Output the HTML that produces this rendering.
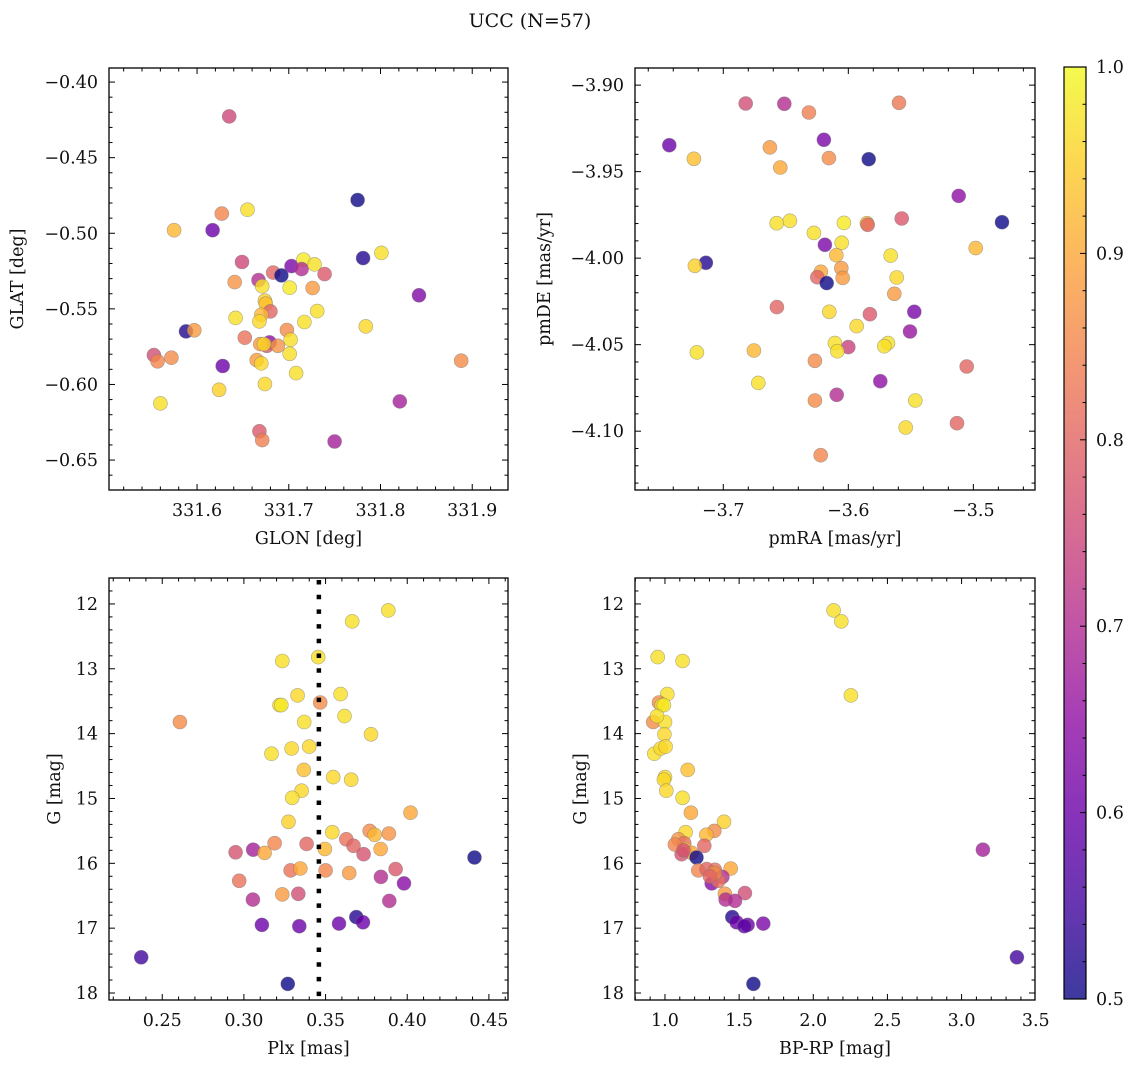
<!DOCTYPE html>
<html><head><meta charset="utf-8"><style>
html,body{margin:0;padding:0;background:#fff;}
svg{display:block;font-family:"DejaVu Serif","Liberation Serif",serif;}
</style></head><body>
<svg id="fig" width="1136" height="1067" viewBox="0 0 1136 1067" xmlns="http://www.w3.org/2000/svg">
<rect width="1136" height="1067" fill="#fff"/>
<text x="530" y="27" font-size="19" text-anchor="middle" fill="#111">UCC (N=57)</text>
<g id="root"></g>
</svg>
<script>
// Panel 1: GLON / GLAT
const glon=[331.635,331.775,331.627,331.655,331.575,331.617,331.801,331.781,331.649,331.703,331.716,331.714,331.728,331.739,331.683,331.692,331.667,331.671,331.641,331.701,331.726,331.842,331.674,331.675,331.680,331.731,331.642,331.670,331.668,331.717,331.784,331.588,331.597,331.698,331.652,331.702,331.679,331.676,331.669,331.673,331.688,331.701,331.553,331.557,331.572,331.888,331.665,331.670,331.628,331.708,331.674,331.624,331.560,331.821,331.668,331.671,331.750];
const glat=[-0.4227,-0.478,-0.487,-0.4844,-0.498,-0.498,-0.513,-0.5164,-0.519,-0.5217,-0.5175,-0.5237,-0.5206,-0.527,-0.526,-0.5279,-0.531,-0.535,-0.5323,-0.536,-0.5362,-0.541,-0.5446,-0.5466,-0.5517,-0.5515,-0.556,-0.5539,-0.5583,-0.5587,-0.5616,-0.5649,-0.5642,-0.564,-0.5691,-0.5704,-0.5722,-0.5744,-0.5733,-0.5733,-0.5744,-0.5797,-0.5806,-0.5847,-0.5823,-0.5843,-0.5839,-0.5861,-0.5878,-0.5925,-0.5997,-0.6035,-0.6125,-0.6112,-0.631,-0.6368,-0.6377];
const prob1=[0.75,0.5,0.85,0.97,0.92,0.6,0.97,0.52,0.75,0.62,0.98,0.7,0.97,0.78,0.8,0.5,0.7,0.97,0.87,0.98,0.88,0.63,0.95,0.93,0.8,0.97,0.97,0.92,0.96,0.97,0.96,0.52,0.88,0.86,0.82,0.97,0.65,0.78,0.88,0.96,0.87,0.97,0.76,0.85,0.86,0.86,0.88,0.96,0.6,0.97,0.96,0.95,0.97,0.68,0.78,0.84,0.68];
// Panel 2: pmRA / pmDE
const pmra=[-3.6821,-3.6512,-3.6315,-3.5595,-3.7432,-3.6627,-3.6195,-3.7235,-3.6155,-3.5837,-3.6544,-3.5117,-3.6573,-3.6467,-3.6035,-3.5851,-3.5573,-3.4771,-3.6275,-3.6187,-3.6053,-3.4981,-3.6096,-3.5661,-3.7139,-3.7227,-3.6056,-3.6219,-3.6248,-3.6045,-3.6173,-3.5613,-3.5632,-3.6571,-3.6152,-3.5827,-3.5472,-3.5933,-3.5507,-3.6107,-3.6,-3.6088,-3.5683,-3.5712,-3.7211,-3.6755,-3.6267,-3.5053,-3.672,-3.5744,-3.6093,-3.6267,-3.5464,-3.5131,-3.5541,-3.6221,-3.5845];
const pmde=[-3.9106,-3.9108,-3.9158,-3.9102,-3.9347,-3.936,-3.9316,-3.9426,-3.9422,-3.9428,-3.9476,-3.964,-3.9798,-3.9784,-3.9796,-3.9798,-3.9771,-3.9792,-3.9854,-3.9923,-3.9911,-3.9942,-3.9983,-3.9985,-4.0027,-4.0044,-4.0058,-4.0079,-4.011,-4.0114,-4.0144,-4.0112,-4.0206,-4.0283,-4.031,-4.0324,-4.031,-4.0393,-4.0424,-4.0491,-4.0514,-4.0538,-4.0491,-4.0509,-4.0545,-4.0534,-4.0593,-4.0626,-4.0721,-4.0711,-4.079,-4.0823,-4.0823,-4.0954,-4.0979,-4.1139,-3.9807];
const prob2=[0.76,0.7,0.84,0.83,0.6,0.88,0.62,0.93,0.86,0.5,0.9,0.65,0.97,0.97,0.98,0.93,0.78,0.5,0.97,0.62,0.97,0.92,0.92,0.97,0.52,0.95,0.88,0.9,0.8,0.88,0.5,0.96,0.88,0.8,0.96,0.78,0.62,0.96,0.66,0.97,0.74,0.97,0.97,0.97,0.97,0.92,0.86,0.8,0.97,0.65,0.7,0.86,0.97,0.8,0.96,0.85,0.8];
// Panel 3: Plx / G
const plx=[0.3884,0.3663,0.3235,0.3455,0.3329,0.3592,0.3467,0.3218,0.3229,0.2608,0.3369,0.3616,0.3778,0.3169,0.3292,0.34,0.3367,0.3547,0.3657,0.3353,0.3296,0.402,0.3273,0.3541,0.377,0.38,0.3888,0.3627,0.3188,0.3384,0.3671,0.3496,0.3837,0.2949,0.3057,0.3127,0.3733,0.4412,0.3286,0.3345,0.35,0.3645,0.3929,0.3839,0.398,0.2971,0.3235,0.3333,0.3055,0.389,0.3688,0.3729,0.311,0.3582,0.3339,0.2371,0.3269];
const gmag3=[12.10,12.27,12.88,12.82,13.41,13.39,13.52,13.56,13.56,13.82,13.82,13.73,14.01,14.31,14.23,14.20,14.56,14.67,14.71,14.88,14.99,15.22,15.36,15.52,15.50,15.56,15.54,15.63,15.69,15.70,15.73,15.78,15.78,15.83,15.79,15.84,15.86,15.91,16.11,16.08,16.11,16.15,16.09,16.21,16.31,16.27,16.48,16.47,16.56,16.58,16.83,16.91,16.95,16.93,16.97,17.45,17.86];
const prob3=[0.97,0.97,0.97,0.97,0.96,0.97,0.86,0.97,0.98,0.86,0.97,0.97,0.96,0.97,0.96,0.96,0.93,0.96,0.96,0.96,0.97,0.9,0.95,0.96,0.86,0.92,0.87,0.82,0.85,0.8,0.8,0.92,0.9,0.77,0.68,0.9,0.77,0.5,0.82,0.9,0.85,0.88,0.78,0.7,0.64,0.82,0.88,0.76,0.7,0.7,0.52,0.6,0.6,0.6,0.6,0.55,0.5];
const plxLine=0.3459;
// Panel 4: BP-RP / G
const bprp=[2.137,2.189,0.951,1.119,2.254,1.016,0.960,0.978,0.993,0.921,1.0,0.946,0.996,0.928,0.971,1.004,1.153,1.0,0.993,1.009,1.119,1.175,1.398,1.139,1.333,1.279,1.09,1.130,1.265,1.135,1.18,1.112,1.213,3.144,1.225,1.337,1.443,1.281,1.326,1.387,1.315,1.36,1.404,1.539,1.409,1.472,1.454,1.483,1.663,1.557,1.535,3.373,1.596,1.337,1.067,1.124,1.303];
const gmag4=[12.10,12.27,12.82,12.88,13.41,13.39,13.52,13.56,13.56,13.82,13.82,13.73,14.01,14.31,14.23,14.20,14.56,14.67,14.71,14.88,14.99,15.22,15.36,15.52,15.50,15.56,15.63,15.69,15.73,15.78,15.84,15.86,15.91,15.79,16.11,16.10,16.08,16.09,16.15,16.21,16.31,16.27,16.47,16.46,16.56,16.58,16.83,16.91,16.93,16.95,16.97,17.45,17.86,16.15,15.71,15.80,16.20];
const prob4=[0.97,0.97,0.97,0.97,0.97,0.97,0.86,0.97,0.98,0.86,0.97,0.97,0.96,0.97,0.96,0.96,0.93,0.96,0.96,0.96,0.97,0.9,0.95,0.96,0.86,0.92,0.87,0.82,0.8,0.92,0.9,0.77,0.5,0.68,0.85,0.82,0.9,0.8,0.88,0.7,0.64,0.82,0.88,0.76,0.7,0.7,0.52,0.6,0.62,0.6,0.58,0.55,0.5,0.85,0.85,0.77,0.8];
// Tick labels
const ticks1x=[331.6,331.7,331.8,331.9], ticks1y=[-0.40,-0.45,-0.50,-0.55,-0.60,-0.65];
const ticks2x=[-3.7,-3.6,-3.5], ticks2y=[-3.90,-3.95,-4.00,-4.05,-4.10];
const ticks3x=[0.25,0.30,0.35,0.40,0.45], ticksGy=[12,13,14,15,16,17,18];
const ticks4x=[1.0,1.5,2.0,2.5,3.0,3.5];
const cbTicks=[0.5,0.6,0.7,0.8,0.9,1.0];

const NS="http://www.w3.org/2000/svg";
const root=document.getElementById('root');
const FS=17.5;
function el(tag,attrs,parent){const e=document.createElementNS(NS,tag);for(const k in attrs)e.setAttribute(k,attrs[k]);(parent||root).appendChild(e);return e;}
const stops=[[13,8,135],[65,4,157],[106,0,168],[143,13,164],[177,42,144],[204,71,120],[225,100,98],[242,132,75],[252,166,54],[252,206,37],[240,249,33]];
function plasma(t){t=Math.max(0,Math.min(1,t))*10;const i=Math.min(9,Math.floor(t)),f=t-i,a=stops[i],b=stops[i+1];return 'rgb('+a.map((v,k)=>Math.round(v+(b[k]-v)*f)).join(',')+')';}
function pcol(p){return plasma((p-0.5)/0.5);}
function fmt(v,d){return (v<0?'\u2212':'')+Math.abs(v).toFixed(d);}

function panel(name,box,xd,yd,xt,yt,xdec,ydec,xminor,yminor,xs,ys,ps,xlab,ylab,ylabX){
  const g=el('g',{});
  
  
  const sx=v=>box.x0+(v-xd[0])/(xd[1]-xd[0])*(box.x1-box.x0);
  const sy=v=>box.y0+(v-yd[0])/(yd[1]-yd[0])*(box.y1-box.y0);
  for(let i=0;i<xs.length;i++){
    const c=el('circle',{cx:sx(xs[i]).toFixed(1),cy:sy(ys[i]).toFixed(1),r:7,fill:pcol(ps[i]),'fill-opacity':0.8,stroke:'#777','stroke-opacity':0.6,'stroke-width':0.6},g);
    
    
  }
  const fr=el('rect',{x:box.x0,y:box.y0,width:box.x1-box.x0,height:box.y1-box.y0,fill:'none',stroke:'#000','stroke-width':1.3},g);
  
  
  const lo=Math.min(xd[0],xd[1]),hi=Math.max(xd[0],xd[1]);
  for(let v=Math.ceil(lo/xminor-1e-6)*xminor;v<=hi+1e-9;v+=xminor){const X=sx(v);const maj=xt.some(t=>Math.abs(t-v)<xminor/10);const L=maj?6:3.5;
    el('line',{x1:X,x2:X,y1:box.y1,y2:box.y1-L,stroke:'#000','stroke-width':1},g);el('line',{x1:X,x2:X,y1:box.y0,y2:box.y0+L,stroke:'#000','stroke-width':1},g);}
  const ylo=Math.min(yd[0],yd[1]),yhi=Math.max(yd[0],yd[1]);
  for(let v=Math.ceil(ylo/yminor-1e-6)*yminor;v<=yhi+1e-9;v+=yminor){const Y=sy(v);const maj=yt.some(t=>Math.abs(t-v)<yminor/10);const L=maj?6:3.5;
    el('line',{x1:box.x0,x2:box.x0+L,y1:Y,y2:Y,stroke:'#000','stroke-width':1},g);el('line',{x1:box.x1,x2:box.x1-L,y1:Y,y2:Y,stroke:'#000','stroke-width':1},g);}
  xt.forEach(v=>{const t=el('text',{x:sx(v),y:box.y1+26,'font-size':FS,'text-anchor':'middle',fill:'#111'},g);t.textContent=fmt(v,xdec);
    
    });
  yt.forEach(v=>{const t=el('text',{x:box.x0-11,y:sy(v)+6,'font-size':FS,'text-anchor':'end',fill:'#111'},g);t.textContent=fmt(v,ydec);
    
    });
  const xl=el('text',{x:(box.x0+box.x1)/2,y:box.y1+54,'font-size':FS,'text-anchor':'middle',fill:'#111'},g);xl.textContent=xlab;
  
  
  const cy=(box.y0+box.y1)/2;
  const yl=el('text',{x:ylabX,y:cy,'font-size':FS,'text-anchor':'middle',fill:'#111',transform:'rotate(-90 '+ylabX+' '+cy+')'},g);yl.textContent=ylab;
  
  
  return {sx,sy,g};
}
const b1={x0:109,x1:508,y0:68,y1:490}, b2={x0:635,x1:1035,y0:68,y1:490};
const b3={x0:109,x1:508,y0:578,y1:1000}, b4={x0:635,x1:1035,y0:578,y1:1000};
panel('glon-glat-panel',b1,[331.504,331.939],[-0.3907,-0.6698],ticks1x,ticks1y,1,2,0.02,0.01,glon,glat,prob1,'GLON [deg]','GLAT [deg]',23);
panel('pm-panel',b2,[-3.7706,-3.4507],[-3.8901,-4.134],ticks2x,ticks2y,1,2,0.02,0.01,pmra,pmde,prob2,'pmRA [mas/yr]','pmDE [mas/yr]',550);
const p3=panel('plx-g-panel',b3,[0.2174,0.4617],[11.6,18.108],ticks3x,ticksGy,2,0,0.01,0.2,plx,gmag3,prob3,'Plx [mas]','G [mag]',60);
panel('cmd-panel',b4,[0.798,3.495],[11.6,18.108],ticks4x,ticksGy,1,0,0.1,0.2,bprp,gmag4,prob4,'BP-RP [mag]','G [mag]',586);
const dl=el('line',{x1:p3.sx(plxLine),x2:p3.sx(plxLine),y1:b3.y0+2,y2:b3.y1,stroke:'#000','stroke-width':4.5,'stroke-dasharray':'4.5 10.2'},p3.g);



// Colorbar
const cb={x0:1064,x1:1086,y0:67,y1:999};
const defs=el('defs',{});
const lg=el('linearGradient',{id:'cbg',x1:0,y1:1,x2:0,y2:0},defs);
for(let i=0;i<=20;i++){el('stop',{offset:(i/20),'stop-color':plasma(i/20),'stop-opacity':0.8},lg);}
const cbg=el('g',{});


el('rect',{x:cb.x0,y:cb.y0,width:cb.x1-cb.x0,height:cb.y1-cb.y0,fill:'url(#cbg)',stroke:'#000','stroke-width':1.2},cbg);
const cy=v=>cb.y1-(v-0.5)/0.5*(cb.y1-cb.y0);
for(let k=0;k<=25;k++){const v=0.5+k*0.02;const maj=(k%5===0);el('line',{x1:cb.x1,x2:cb.x1-(maj?6:3.5),y1:cy(v),y2:cy(v),stroke:'#000','stroke-width':1},cbg);}
cbTicks.forEach(v=>{const t=el('text',{x:1096,y:cy(v)+6,'font-size':FS,fill:'#111'},cbg);t.textContent=v.toFixed(1);
  
  });
</script>
</body></html>
